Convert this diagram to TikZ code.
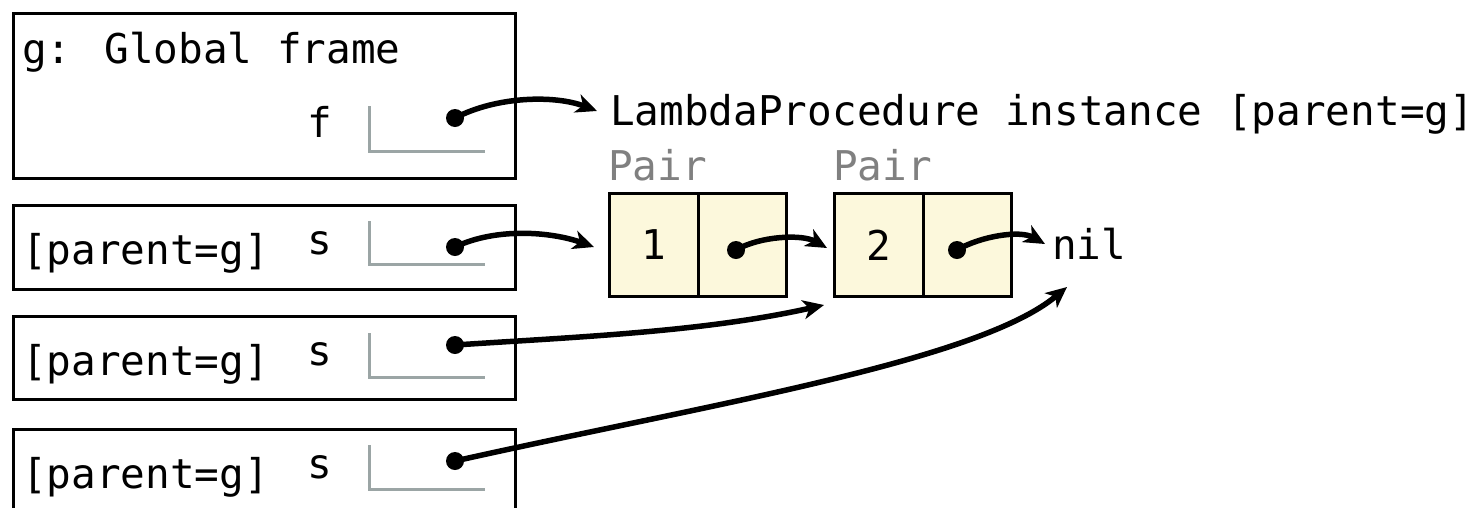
\documentclass[tikz,border=0pt]{standalone}
\usepackage{fontspec}
\usetikzlibrary{arrows.meta}
\newfontfamily\codefont{DejaVu Sans Mono}
\definecolor{slotgray}{RGB}{155,165,165}
\definecolor{labelgray}{RGB}{128,128,128}
\definecolor{pairfill}{RGB}{252,248,220}
\tikzset{
  frame/.style={draw, line width=3pt, anchor=north west, minimum width=502pt, inner sep=0pt},
  cell/.style={draw, fill=pairfill, line width=3pt, anchor=north west, minimum width=89pt, minimum height=103pt, inner sep=0pt},
  code/.style={font=\codefont\fontsize{41}{48}\selectfont, inner sep=0pt},
  slot/.style={draw=slotgray, line width=3pt},
  ptr/.style={circle, fill, inner sep=0pt, minimum size=18pt},
  link/.style={line width=5.5pt, -{Stealth[length=21pt,width=19pt,inset=6pt]}},
}
\begin{document}
\begin{tikzpicture}[x=1pt,y=-1pt]
		\useasboundingbox (0,0) rectangle (1482,507);
		\clip (0,0) rectangle (1482,507);
		\draw (12,12) node [frame, minimum height=165pt] (G) {};
		\draw (12,204) node [frame, minimum height=84pt] (F1) {};
		\draw (12,315) node [frame, minimum height=83pt] (F2) {};
		\draw (12,428) node [frame, minimum height=90pt] (F3) {};
		\draw (22,63) node [code, anchor=base west] (gname) {g: Global frame};
		\draw (332,137) node [code, anchor=base east] (fvar) {f};
		\draw (22,264) node [code, anchor=base west] (p1) {[parent=g]};
		\draw (332,254) node [code, anchor=base east] (s1) {s};
		\draw (22,375) node [code, anchor=base west] (p2) {[parent=g]};
		\draw (332,365) node [code, anchor=base east] (s2) {s};
		\draw (22,488) node [code, anchor=base west] (p3) {[parent=g]};
		\draw (332,478) node [code, anchor=base east] (s3) {s};
		\draw [slot] (369,106) |- (485,151);
		\draw [slot] (369,221) |- (485,264);
		\draw [slot] (369,333) |- (485,377);
		\draw [slot] (369,445) |- (485,489);
		\draw (610,125) node [code, anchor=base west] (lam) {LambdaProcedure instance [parent=g]};
		\draw (608,180) node [code, anchor=base west, text=labelgray] (pair1) {Pair};
		\draw (833,180) node [code, anchor=base west, text=labelgray] (pair2) {Pair};
		\draw (608,192) node [cell] (car1) {\codefont\fontsize{41}{48}\selectfont 1};
		\draw (697,192) node [cell, minimum width=88pt] (cdr1) {};
		\draw (833,192) node [cell] (car2) {\codefont\fontsize{41}{48}\selectfont 2};
		\draw (922,192) node [cell, minimum width=88pt] (cdr2) {};
		\draw (1052,259) node [code, anchor=base west] (nil) {nil};
		\draw node at (455,118) [ptr] (d1) {};
		\draw node at (455,247) [ptr] (d2) {};
		\draw node at (455,345) [ptr] (d3) {};
		\draw node at (455,461) [ptr] (d4) {};
		\draw node at (736,250) [ptr] (d5) {};
		\draw node at (957,250) [ptr] (d6) {};
		\coordinate (t1) at ([shift={(-13,-14)}]lam.base west);
		\coordinate (t2) at ([shift={(-14,2)}]car1.west);
		\coordinate (t3) at ([shift={(-6,3)}]car2.west);
		\coordinate (t4) at ([shift={(-7,-15)}]nil.base west);
		\coordinate (t5) at ([shift={(-9,7)}]car2.south west);
		\coordinate (t6) at ([shift={(15,28)}]nil.base west);
		\draw [link] (d1.center) .. controls +(42,-22) and +(-42,-16) .. (t1);
		\draw [link] (d2.center) .. controls +(42,-20) and +(-42,-15) .. (t2);
		\draw [link] (d5.center) .. controls +(24,-14) and +(-25,-14) .. (t3);
		\draw [link] (d6.center) .. controls +(24,-14) and +(-25,-14) .. (t4);
		\draw [link] (d3.center) .. controls +(120,-8) and +(-120,27) .. (t5);
		\draw [link] (d4.center) .. controls +(250,-56) and +(-90,75) .. (t6);
	\end{tikzpicture}
\end{document}
